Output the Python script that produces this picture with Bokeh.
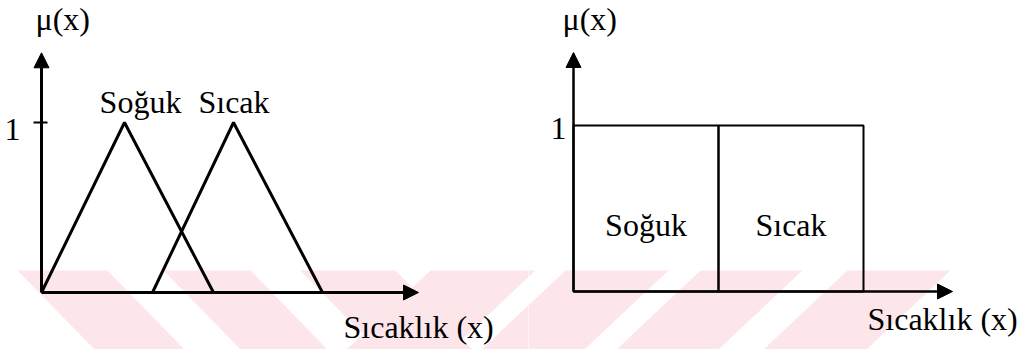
from bokeh.plotting import figure
from bokeh.layouts import row
from bokeh.models import Arrow, NormalHead, Range1d
from bokeh.core.properties import value
from bokeh.embed import file_html
from bokeh.resources import INLINE

# ---- data ----
soguk_x = [0.0, 8.3, 17.2]
soguk_mu = [0, 1, 0]
sicak_x = [11.1, 19.2, 28.1]
sicak_mu = [0, 1, 0]
crisp_left = [0.0, 14.5]
crisp_right = [14.5, 29.0]
crisp_mu = [1, 1]
set_labels = ["Soğuk", "Sıcak"]
x_axis_label = "Sıcaklık (x)"
y_axis_label = "μ(x)"
tick_labels = ["1"]
tick_values = [1]

# ---- background watermark stripes (picture pixels) ----
wm_top, wm_bottom = 270, 349
wm_back_tops = [(17, 107), (163, 250), (300, 395)]
wm_back_shift = 77
wm_fwd_tops = [(430, 535), (565, 668), (700, 802), (847, 950)]
wm_fwd_shift = -84
wm_color = "#fde6ea"

FONT = value("Liberation Serif")
FS = "32px"
H = 349


def make_fig(width, x0, x1, y0, y1):
    p = figure(width=width, height=H, x_range=Range1d(x0, x1), y_range=Range1d(y0, y1),
               x_axis_type=None, y_axis_type=None, toolbar_location=None,
               output_backend="svg", min_border=0, outline_line_color=None,
               background_fill_color="white", border_fill_color="white")
    p.grid.visible = False
    return p


def watermark(p, ox, oy, sx, sy):
    def tx(px):
        return (px - ox) / sx

    def ty(py):
        return (oy - py) / sy
    for (a, b) in wm_back_tops:
        xs = [tx(a), tx(b), tx(b + wm_back_shift), tx(a + wm_back_shift)]
        ys = [ty(wm_top), ty(wm_top), ty(wm_bottom), ty(wm_bottom)]
        p.patch(xs, ys, fill_color=wm_color, line_color=None)
    for (a, b) in wm_fwd_tops:
        xs = [tx(a), tx(b), tx(b + wm_fwd_shift), tx(a + wm_fwd_shift)]
        ys = [ty(wm_top), ty(wm_top), ty(wm_bottom), ty(wm_bottom)]
        p.patch(xs, ys, fill_color=wm_color, line_color=None)


# ---------- left panel: fuzzy sets ----------
LW = 528
L_OX, L_OY, L_SX, L_SY = 41, 292, 10.0, 170.0
left = make_fig(LW, (0 - L_OX) / L_SX, (LW - L_OX) / L_SX,
                (L_OY - H) / L_SY, (L_OY - 0) / L_SY)
watermark(left, L_OX, L_OY, L_SX, L_SY)

left.line(soguk_x, soguk_mu, line_color="black", line_width=3)
left.line(sicak_x, sicak_mu, line_color="black", line_width=3)

left.add_layout(Arrow(end=NormalHead(size=15, fill_color="black", line_color="black"),
                      x_start=0, y_start=0, x_end=37.7, y_end=0,
                      line_color="black", line_width=3))
left.add_layout(Arrow(end=NormalHead(size=15, fill_color="black", line_color="black"),
                      x_start=0, y_start=0, x_end=0, y_end=1.41,
                      line_color="black", line_width=3))
left.segment(x0=[-0.8], y0=tick_values, x1=[0.6], y1=tick_values, line_color="black", line_width=2)

left.text(x=[-2.1], y=[0.959], text=tick_labels, text_font=FONT, text_font_size=FS,
          text_align="right", text_baseline="alphabetic", text_color="black")
left.text(x=[-0.6], y=[1.606], text=[y_axis_label], text_font=FONT, text_font_size=FS,
          text_align="left", text_baseline="alphabetic", text_color="black")
left.text(x=[soguk_x[1] + 1.6, sicak_x[1] + 0.05], y=[1.118, 1.118], text=set_labels,
          text_font=FONT, text_font_size=FS, text_align="center",
          text_baseline="alphabetic", text_color="black")
left.text(x=[30.2], y=[-0.2], text=[x_axis_label], text_font=FONT, text_font_size=FS,
          text_align="left", text_baseline="alphabetic", text_color="black")

# ---------- right panel: crisp sets ----------
RW = 1023 - LW
R_OX, R_OY, R_SX, R_SY = 573, 291, 10.0, 166.0
right = make_fig(RW, (LW - R_OX) / R_SX, (1023 - R_OX) / R_SX,
                 (R_OY - H) / R_SY, (R_OY - 0) / R_SY)
watermark(right, R_OX, R_OY, R_SX, R_SY)

right.quad(left=crisp_left, right=crisp_right, bottom=[0, 0], top=crisp_mu,
           fill_color=None, line_color="black", line_width=2)
right.add_layout(Arrow(end=NormalHead(size=15, fill_color="black", line_color="black"),
                       x_start=0, y_start=0, x_end=37.9, y_end=0,
                       line_color="black", line_width=2.5))
right.add_layout(Arrow(end=NormalHead(size=15, fill_color="black", line_color="black"),
                       x_start=0, y_start=0, x_end=0, y_end=1.44,
                       line_color="black", line_width=2.5))

right.text(x=[-0.7], y=[0.982], text=tick_labels, text_font=FONT, text_font_size=FS,
           text_align="right", text_baseline="alphabetic", text_color="black")
right.text(x=[-1.1], y=[1.639], text=[y_axis_label], text_font=FONT, text_font_size=FS,
           text_align="left", text_baseline="alphabetic", text_color="black")
right.text(x=[(crisp_left[0] + crisp_right[0]) / 2, (crisp_left[1] + crisp_right[1]) / 2],
           y=[0.398, 0.398], text=set_labels, text_font=FONT, text_font_size=FS,
           text_align="center", text_baseline="alphabetic", text_color="black")
right.text(x=[29.4], y=[-0.163], text=[x_axis_label], text_font=FONT, text_font_size=FS,
           text_align="left", text_baseline="alphabetic", text_color="black")

layout = row(left, right, spacing=0)
open("out.html", "w").write(file_html(layout, INLINE))
